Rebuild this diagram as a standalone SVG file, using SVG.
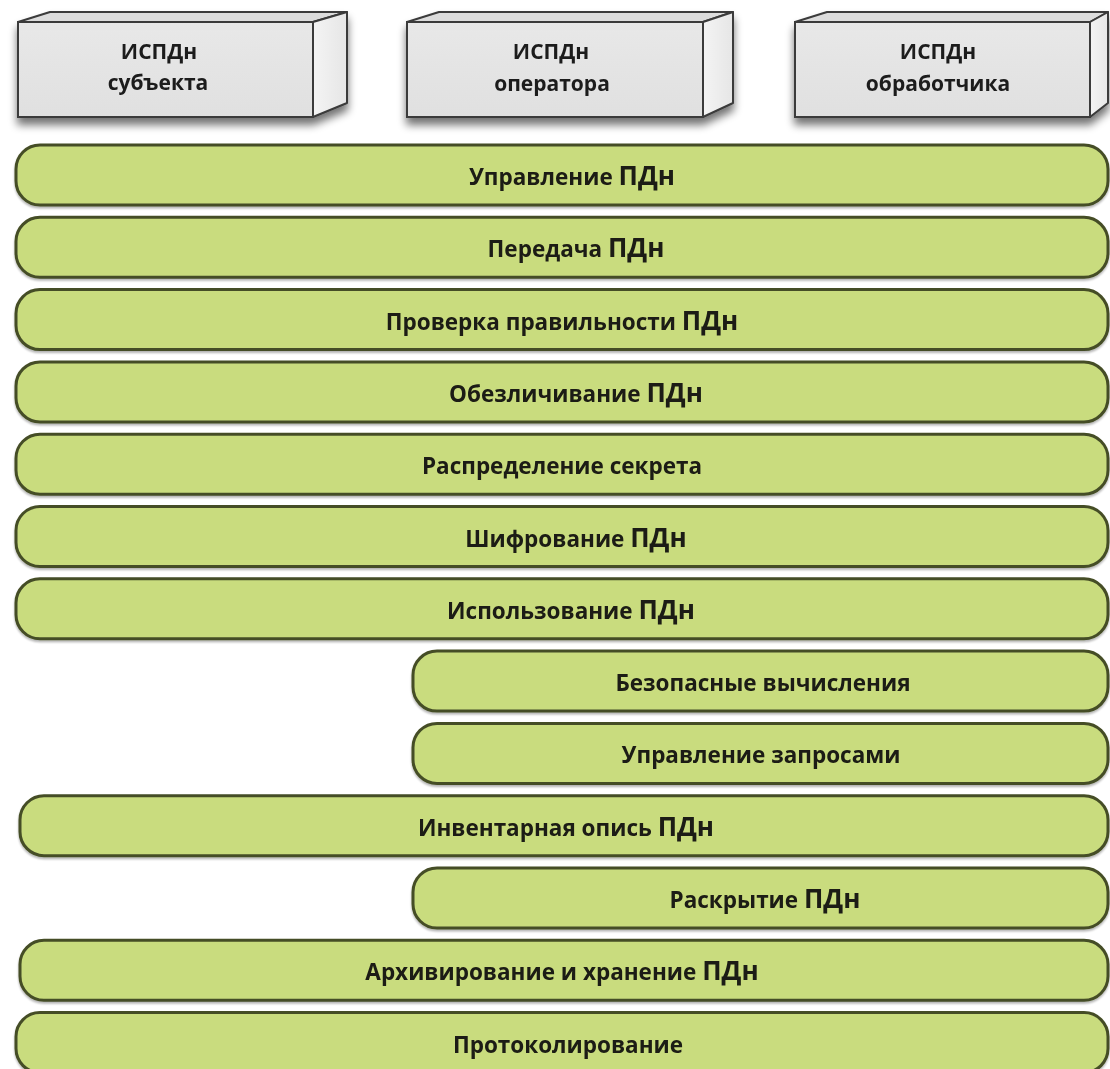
<svg xmlns="http://www.w3.org/2000/svg" width="1110" height="1069" viewBox="0 0 1110 1069">
<style>
  .lbl { font-family: "Open Sans", "Liberation Sans", sans-serif; font-weight: bold; font-size: 22.5px; fill: #1a1a12; text-anchor: middle; }
  .big { font-size: 26px; }
  .bar { fill: #c9dc7e; stroke: #454d26; stroke-width: 3; }
  .front { fill: url(#gFront); stroke: #3a3a3a; stroke-width: 2; }
  .top { fill: #dcdcdc; stroke: #3a3a3a; stroke-width: 2; stroke-linejoin: round; }
  .side { fill: url(#gSide); stroke: #3a3a3a; stroke-width: 2; stroke-linejoin: round; }
  .btxt { font-family: "Open Sans", "Liberation Sans", sans-serif; font-weight: bold; font-size: 21px; fill: #1c1c1c; text-anchor: middle; }
</style>
<defs>
  <linearGradient id="gFront" x1="0" y1="0" x2="0" y2="1">
    <stop offset="0" stop-color="#e8e8e8"/>
    <stop offset="1" stop-color="#e0e0e0"/>
  </linearGradient>
  <linearGradient id="gSide" x1="0" y1="0" x2="1" y2="0">
    <stop offset="0" stop-color="#f4f4f4"/>
    <stop offset="1" stop-color="#e6e6e6"/>
  </linearGradient>
  <filter id="shadow" x="-10%" y="-20%" width="120%" height="160%">
    <feGaussianBlur in="SourceAlpha" stdDeviation="4"/>
    <feOffset dx="0" dy="7" result="b"/>
    <feComponentTransfer><feFuncA type="linear" slope="0.55"/></feComponentTransfer>
    <feMerge><feMergeNode/><feMergeNode in="SourceGraphic"/></feMerge>
  </filter>
  <filter id="bshadow" x="-2%" y="-10%" width="104%" height="130%">
    <feGaussianBlur in="SourceAlpha" stdDeviation="1.2"/>
    <feOffset dx="0" dy="2" result="b"/>
    <feComponentTransfer><feFuncA type="linear" slope="0.3"/></feComponentTransfer>
    <feMerge><feMergeNode/><feMergeNode in="SourceGraphic"/></feMerge>
  </filter>
</defs>
<rect width="1110" height="1069" fill="#ffffff"/>

<g id="box-subject" filter="url(#shadow)">
  <polygon class="top" points="18,22 50,12 347,12 313,22"/>
  <polygon class="side" points="313,22 347,12 347,103 313,117"/>
  <rect class="front" x="18" y="22" width="295" height="95"/>
  <text class="btxt" x="159" y="59">ИСПДн</text>
  <text class="btxt" x="158" y="90">субъекта</text>
</g>
<g id="box-operator" filter="url(#shadow)">
  <polygon class="top" points="407,22 439,12 733,12 703,22"/>
  <polygon class="side" points="703,22 733,12 733,103 703,117"/>
  <rect class="front" x="407" y="22" width="296" height="95"/>
  <text class="btxt" x="551" y="59">ИСПДн</text>
  <text class="btxt" x="552" y="91">оператора</text>
</g>
<g id="box-processor" filter="url(#shadow)">
  <polygon class="top" points="795,22 827,12 1108,12 1090,22"/>
  <polygon class="side" points="1090,22 1108,12 1108,103 1090,117"/>
  <rect class="front" x="795" y="22" width="295" height="95"/>
  <text class="btxt" x="938" y="59">ИСПДн</text>
  <text class="btxt" x="938" y="91">обработчика</text>
</g>

<g id="bar-upravlenie" filter="url(#bshadow)">
  <rect class="bar" x="16" y="145" width="1092" height="60" rx="24"/>
  <text class="lbl" x="572" y="185">Управление <tspan class="big">ПДн</tspan></text>
</g>
<g id="bar-peredacha" filter="url(#bshadow)">
  <rect class="bar" x="16" y="217.3" width="1092" height="60" rx="24"/>
  <text class="lbl" x="576" y="257.3">Передача <tspan class="big">ПДн</tspan></text>
</g>
<g id="bar-proverka" filter="url(#bshadow)">
  <rect class="bar" x="16" y="289.6" width="1092" height="60" rx="24"/>
  <text class="lbl" x="562" y="329.6">Проверка правильности <tspan class="big">ПДн</tspan></text>
</g>
<g id="bar-obezlich" filter="url(#bshadow)">
  <rect class="bar" x="16" y="361.9" width="1092" height="60" rx="24"/>
  <text class="lbl" x="576" y="401.9">Обезличивание <tspan class="big">ПДн</tspan></text>
</g>
<g id="bar-raspred" filter="url(#bshadow)">
  <rect class="bar" x="16" y="434.2" width="1092" height="60" rx="24"/>
  <text class="lbl" x="562" y="474.2">Распределение секрета</text>
</g>
<g id="bar-shifr" filter="url(#bshadow)">
  <rect class="bar" x="16" y="506.5" width="1092" height="60" rx="24"/>
  <text class="lbl" x="576" y="546.5">Шифрование <tspan class="big">ПДн</tspan></text>
</g>
<g id="bar-ispolz" filter="url(#bshadow)">
  <rect class="bar" x="16" y="578.8" width="1092" height="60" rx="24"/>
  <text class="lbl" x="571" y="618.8">Использование <tspan class="big">ПДн</tspan></text>
</g>
<g id="bar-bezop" filter="url(#bshadow)">
  <rect class="bar" x="413" y="651.1" width="695" height="60" rx="24"/>
  <text class="lbl" x="763" y="691.1">Безопасные вычисления</text>
</g>
<g id="bar-zaprosy" filter="url(#bshadow)">
  <rect class="bar" x="413" y="723.4" width="695" height="60" rx="24"/>
  <text class="lbl" x="761" y="763.4">Управление запросами</text>
</g>
<g id="bar-invent" filter="url(#bshadow)">
  <rect class="bar" x="20" y="795.7" width="1088" height="60" rx="24"/>
  <text class="lbl" x="566" y="835.7">Инвентарная опись <tspan class="big">ПДн</tspan></text>
</g>
<g id="bar-raskr" filter="url(#bshadow)">
  <rect class="bar" x="413" y="868" width="695" height="60" rx="24"/>
  <text class="lbl" x="765" y="908">Раскрытие <tspan class="big">ПДн</tspan></text>
</g>
<g id="bar-arhiv" filter="url(#bshadow)">
  <rect class="bar" x="20" y="940.3" width="1088" height="60" rx="24"/>
  <text class="lbl" x="562" y="980.3">Архивирование и хранение <tspan class="big">ПДн</tspan></text>
</g>
<g id="bar-protokol" filter="url(#bshadow)">
  <rect class="bar" x="16" y="1012.6" width="1092" height="60" rx="24"/>
  <text class="lbl" x="568" y="1052.6">Протоколирование</text>
</g>
<g id="connectors"/>
</svg>
